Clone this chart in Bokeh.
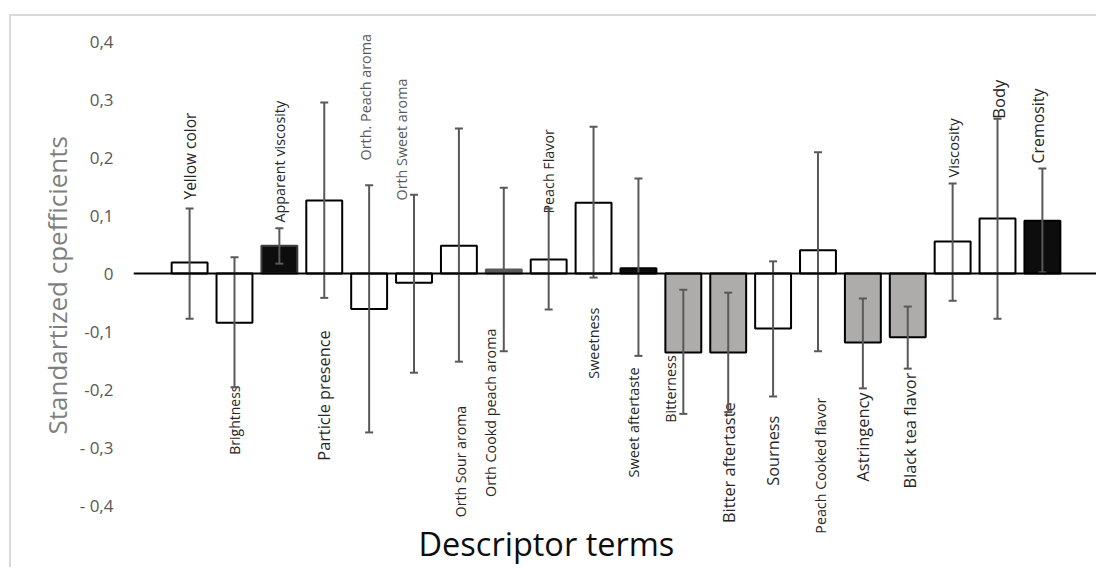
from math import pi
from bokeh.plotting import figure
from bokeh.models import (ColumnDataSource, Whisker, TeeHead, Span, Range1d,
                          FixedTicker, Title, Label)
from bokeh.core.properties import value
from bokeh.embed import file_html
from bokeh.resources import INLINE

# ---------------- data ----------------
descriptors = ["Yellow color", "Brightness", "Apparent viscosity", "Particle presence",
               "Orth. Peach aroma", "Orth Sweet aroma", "Orth Sour  aroma",
               "Orth Cookd peach aroma", "Peach Flavor", "Sweetness", "Sweet aftertaste",
               "Bitterness", "Bitter aftertaste", "Sourness", "Peach Cooked flavor",
               "Astringency", "Black tea flavor", "Viscosity", "Body", "Cremosity"]
coefficients = [0.019, -0.085, 0.048, 0.126, -0.061, -0.016, 0.048, 0.007, 0.024, 0.122,
                0.009, -0.136, -0.136, -0.095, 0.040, -0.119, -0.110, 0.055, 0.095, 0.091]
err_upper = [0.112, 0.028, 0.078, 0.295, 0.152, 0.136, 0.250, 0.148, 0.112, 0.253,
             0.164, -0.028, -0.033, 0.021, 0.209, -0.043, -0.057, 0.155, 0.267, 0.181]
err_lower = [-0.078, -0.196, 0.017, -0.042, -0.274, -0.171, -0.152, -0.134, -0.062, -0.007,
             -0.142, -0.242, -0.239, -0.212, -0.134, -0.198, -0.164, -0.047, -0.078, 0.002]
y_ticks = [-0.4, -0.3, -0.2, -0.1, 0, 0.1, 0.2, 0.3, 0.4]
y_tick_labels = ["- 0,4", "- 0,3", "-0,2", "-0,1", "0", "0,1", "0,2", "0,3", "0,4"]
x_title = "Descriptor terms"
y_title = "Standartized cpefficients"

# ---------------- style / layout ----------------
WHITE, BLACK, GRAY, DGRAY = "#ffffff", "#0d0d0d", "#aeabab", "#595959"
bar_colors = [WHITE, WHITE, BLACK, WHITE, WHITE, WHITE, WHITE, DGRAY, WHITE, WHITE,
              BLACK, GRAY, GRAY, WHITE, WHITE, GRAY, GRAY, WHITE, WHITE, BLACK]
bar_lines = ["#000000"] * 20
bar_lines[2] = "#404040"
bar_lines[7] = "#595959"
# label anchor (y): positive -> text starts there going up; negative -> text ends there
label_anchor = [0.1276, -0.193, 0.0879, -0.098, 0.1948, 0.1259, -0.222, -0.095, 0.1034, -0.059,
                -0.162, -0.141, -0.222, -0.245, -0.214, -0.205, -0.171, 0.1655, 0.267, 0.1897]
label_dx = [0, 0, 0, 0, -0.09, -0.29, 0.04, -0.29, 0, 0,
            -0.1, -0.29, 0, 0, 0.06, 0, 0.06, 0, 0.02, -0.09]
label_size = [15.5, 14, 14.3, 16.3, 14.4, 14.3, 14.1, 14.3, 14.3, 14.4,
              14.5, 14.3, 16.4, 16.3, 14.3, 16.4, 16.3, 14.8, 16.5, 15.9]
label_color = ["#262626"] * 20
label_color[4] = "#595959"
label_color[5] = "#595959"

x = list(range(len(descriptors)))
src = ColumnDataSource(dict(
    x=x, top=coefficients, upper=err_upper, lower=err_lower,
    fill=bar_colors, line=bar_lines,
    lx=[i + d for i, d in zip(x, label_dx)], ly=label_anchor, lab=descriptors,
    align=["left" if a > 0 else "right" for a in label_anchor], lc=label_color,
    fs=[f"{s}px" for s in label_size],
))

p = figure(width=1087, height=553, output_backend="svg", toolbar_location=None,
           x_range=Range1d(-1.25, 20.25), y_range=Range1d(-0.5103, 0.4414),
           min_border_left=122, min_border_right=0, min_border_top=1, min_border_bottom=0,
           x_axis_location=None)
p.margin = (14, 0, 0, 9)
p.styles = {"border-left": "2px solid #d9d9d9", "border-top": "2px solid #d9d9d9"}
p.outline_line_color = None
p.grid.visible = False
p.background_fill_color = "white"

p.vbar(x="x", top="top", bottom=0, width=0.8, source=src,
       fill_color="fill", line_color="line", line_width=2)

head = dict(size=8, line_color="#595959", line_width=2)
w = Whisker(base="x", upper="upper", lower="lower", source=src,
            line_color="#595959", line_width=2, level="annotation",
            upper_head=TeeHead(**head), lower_head=TeeHead(**head))
p.add_layout(w)

p.add_layout(Span(location=0, dimension="width", line_color="black", line_width=2))

p.text(x="lx", y="ly", text="lab", source=src, angle=pi / 2,
       text_align="align", text_baseline="middle", text_color="lc",
       text_font=value("Open Sans"), text_font_size="fs")

# y axis
ya = p.yaxis[0]
ya.ticker = FixedTicker(ticks=y_ticks)
ya.major_label_overrides = {t: l for t, l in zip(y_ticks, y_tick_labels)}
ya.axis_line_color = None
ya.major_tick_line_color = None
ya.minor_tick_line_color = None
ya.major_tick_out = 0
ya.major_tick_in = 0
ya.major_label_standoff = 20
ya.major_label_text_font = "Open Sans"
ya.major_label_text_font_size = "17px"
ya.major_label_text_color = "#595959"

p.add_layout(Title(text=y_title, align="left", offset=135, standoff=4,
                   text_font="Open Sans", text_font_size="26px",
                   text_font_style="normal", text_color="#7f7f7f"), "left")

p.add_layout(Label(x=5.1, y=-0.4655, text=x_title, text_align="left",
                   text_baseline="alphabetic", text_font="Open Sans",
                   text_font_size="32.5px", text_color="#0d0d0d"))

open("out.html", "w").write(file_html(p, INLINE))
